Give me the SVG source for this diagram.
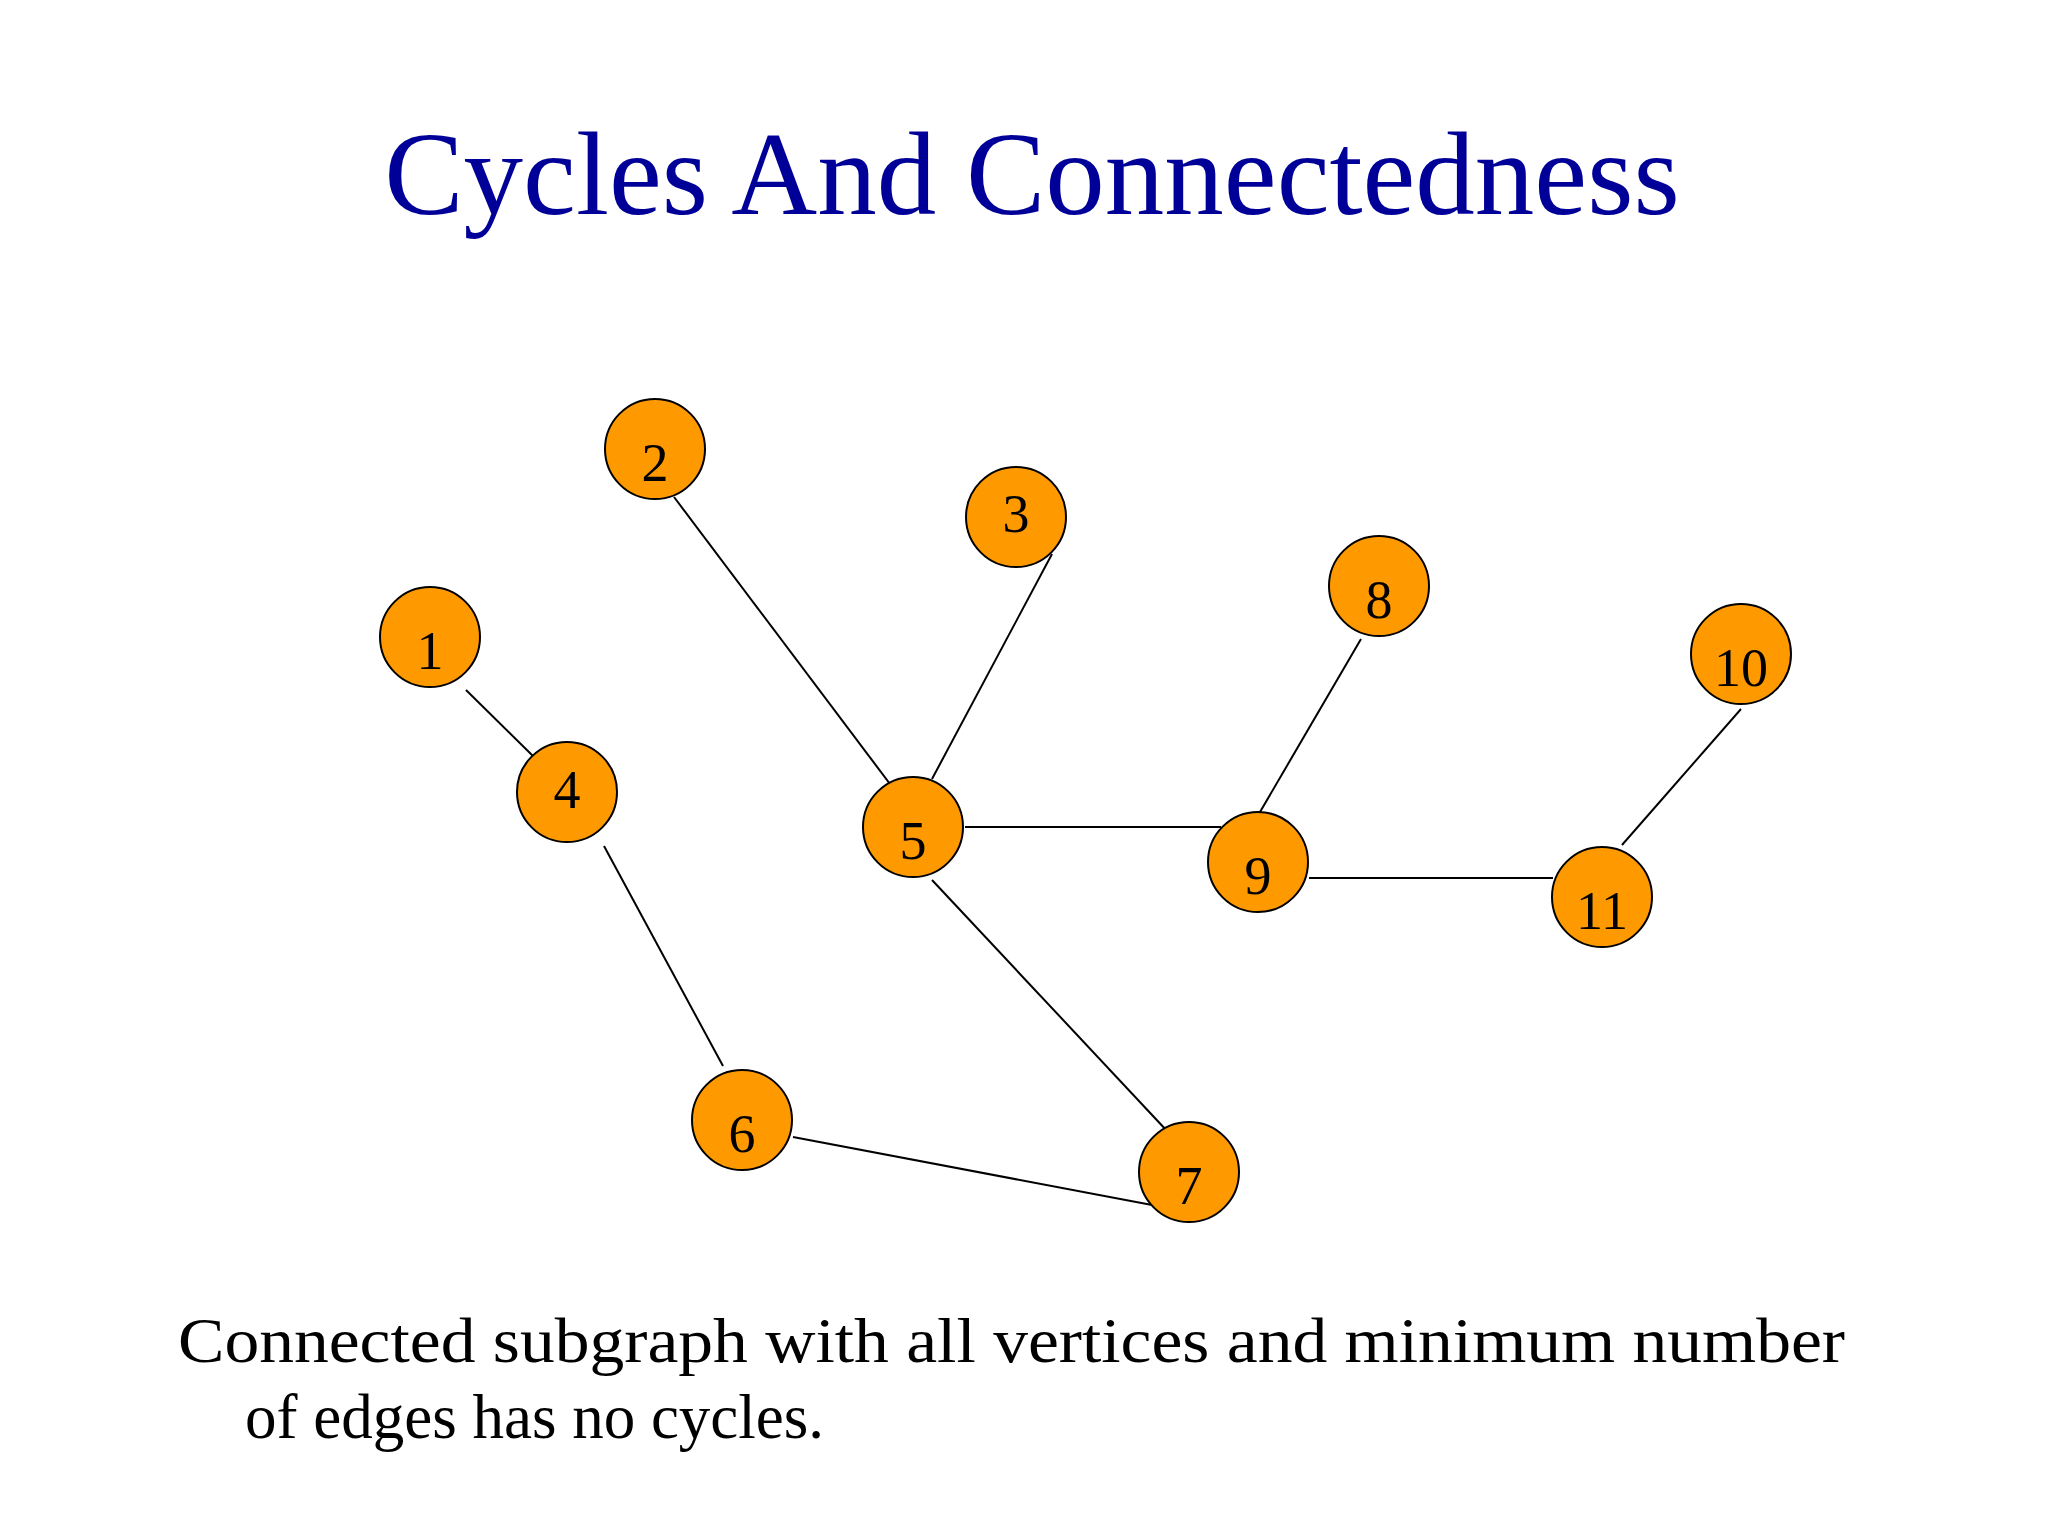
<svg xmlns="http://www.w3.org/2000/svg" width="2048" height="1536" viewBox="0 0 2048 1536">
<style>
.n circle{fill:#ff9900;stroke:#000;stroke-width:2}
.n text{font-family:"Liberation Serif",serif;font-size:54px;text-anchor:middle;fill:#000}
#edges line{stroke:#000;stroke-width:2}
</style>
<rect width="2048" height="1536" fill="#fff"/>
<text x="1032" y="214" font-family="'Liberation Serif',serif" font-size="119" fill="#000099" text-anchor="middle">Cycles And Connectedness</text>
<g id="edges">
<line x1="466" y1="690" x2="533" y2="756"/>
<line x1="674" y1="497" x2="896" y2="792"/>
<line x1="1052" y1="554" x2="932" y2="779"/>
<line x1="604" y1="846" x2="723" y2="1066"/>
<line x1="965" y1="827" x2="1221" y2="827"/>
<line x1="932" y1="880" x2="1168" y2="1132"/>
<line x1="793" y1="1137" x2="1152" y2="1205"/>
<line x1="1361" y1="639" x2="1260" y2="812"/>
<line x1="1309" y1="878" x2="1553" y2="878"/>
<line x1="1741" y1="709" x2="1622" y2="845"/>
</g>
<g id="n1" class="n"><circle cx="430" cy="637" r="50"/><text x="430" y="669">1</text></g>
<g id="n2" class="n"><circle cx="655" cy="449" r="50"/><text x="655" y="481">2</text></g>
<g id="n3" class="n"><circle cx="1016" cy="517" r="50"/><text x="1016" y="532">3</text></g>
<g id="n4" class="n"><circle cx="567" cy="792" r="50"/><text x="567" y="808">4</text></g>
<g id="n5" class="n"><circle cx="913" cy="827" r="50"/><text x="913" y="859">5</text></g>
<g id="n6" class="n"><circle cx="742" cy="1120" r="50"/><text x="742" y="1152">6</text></g>
<g id="n7" class="n"><circle cx="1189" cy="1172" r="50"/><text x="1189" y="1204">7</text></g>
<g id="n8" class="n"><circle cx="1379" cy="586" r="50"/><text x="1379" y="618">8</text></g>
<g id="n9" class="n"><circle cx="1258" cy="862" r="50"/><text x="1258" y="894">9</text></g>
<g id="n10" class="n"><circle cx="1741" cy="654" r="50"/><text x="1741" y="686">10</text></g>
<g id="n11" class="n"><circle cx="1602" cy="897" r="50"/><text x="1602" y="929">11</text></g>
<text x="178" y="1362" font-family="'Liberation Serif',serif" font-size="63" fill="#000" textLength="1667" lengthAdjust="spacingAndGlyphs">Connected subgraph with all vertices and minimum number</text>
<text x="245" y="1438" font-family="'Liberation Serif',serif" font-size="63" fill="#000">of edges has no cycles.</text>
</svg>
